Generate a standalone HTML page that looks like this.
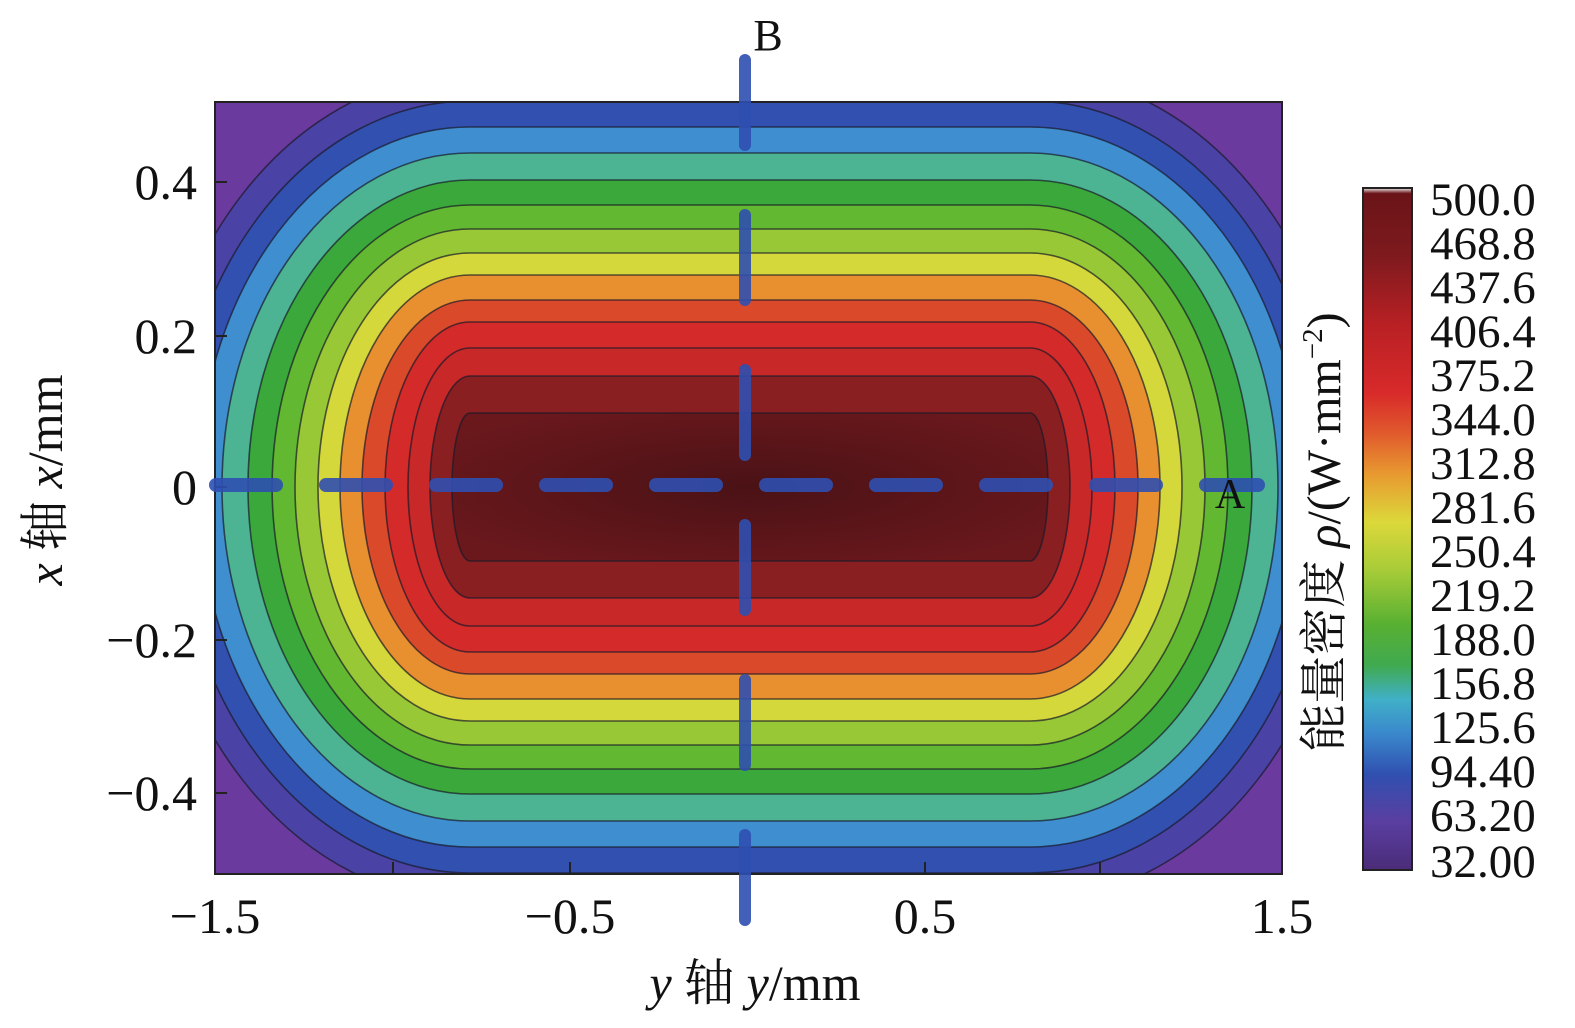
<!DOCTYPE html>
<html><head><meta charset="utf-8"><style>
html,body{margin:0;padding:0;background:#fff;}
svg{display:block;}
text{font-family:"Liberation Serif","Noto Serif CJK SC",serif;fill:#111;}
</style></head><body>
<svg width="1575" height="1028" viewBox="0 0 1575 1028" xmlns="http://www.w3.org/2000/svg">
<defs>
<clipPath id="pc"><rect x="215" y="102" width="1067" height="772"/></clipPath>
<linearGradient id="cb" x1="0" y1="0" x2="0" y2="1">
<stop offset="0" stop-color="#f0f0f0"/>
<stop offset="0.008" stop-color="#6a1418"/>
<stop offset="0.1" stop-color="#7e1a1e"/>
<stop offset="0.2" stop-color="#b82024"/>
<stop offset="0.3" stop-color="#d82a2a"/>
<stop offset="0.36" stop-color="#e05a2c"/>
<stop offset="0.42" stop-color="#e89a30"/>
<stop offset="0.49" stop-color="#dcd83a"/>
<stop offset="0.56" stop-color="#a8cc38"/>
<stop offset="0.64" stop-color="#58b032"/>
<stop offset="0.7" stop-color="#40aa50"/>
<stop offset="0.75" stop-color="#40b0c8"/>
<stop offset="0.8" stop-color="#3a88cc"/>
<stop offset="0.86" stop-color="#3050b0"/>
<stop offset="0.93" stop-color="#5a3ea0"/>
<stop offset="1" stop-color="#4a2c78"/>
</linearGradient>
<radialGradient id="core" cx="0.5" cy="0.5" r="0.6">
<stop offset="0" stop-color="#4a1216"/><stop offset="1" stop-color="#6a181c"/>
</radialGradient>
<linearGradient id="gb" x1="0" y1="0" x2="0" y2="1"><stop offset="0" stop-color="#3d3da0"/><stop offset="1" stop-color="#3358b5"/></linearGradient>
</defs>
<g clip-path="url(#pc)">
<rect x="215" y="102" width="1067" height="772" fill="#6a3a9e"/>
<g stroke="#1a1a2a" stroke-width="1.6" stroke-opacity="0.7">
<path d="M470,73 L1030,73 A322,414 0 0 1 1030,901 L470,901 A322,414 0 0 1 470,73 Z" fill="#4a42a4"/>
<path d="M470,101 L1030,101 A296,386 0 0 1 1030,873 L470,873 A296,386 0 0 1 470,101 Z" fill="#3250b0"/>
<path d="M470,127 L1030,127 A272,360 0 0 1 1030,847 L470,847 A272,360 0 0 1 470,127 Z" fill="#3e8ed0"/>
<path d="M470,153 L1030,153 A248,334 0 0 1 1030,821 L470,821 A248,334 0 0 1 470,153 Z" fill="#4cb492"/>
<path d="M470,180 L1030,180 A222,307 0 0 1 1030,794 L470,794 A222,307 0 0 1 470,180 Z" fill="#3aa83a"/>
<path d="M470,205 L1030,205 A198,282 0 0 1 1030,769 L470,769 A198,282 0 0 1 470,205 Z" fill="#62b830"/>
<path d="M470,229 L1030,229 A175,258 0 0 1 1030,745 L470,745 A175,258 0 0 1 470,229 Z" fill="#98c835"/>
<path d="M470,253 L1030,253 A152,234 0 0 1 1030,721 L470,721 A152,234 0 0 1 470,253 Z" fill="#d4d83a"/>
<path d="M470,275 L1030,275 A130,212 0 0 1 1030,699 L470,699 A130,212 0 0 1 470,275 Z" fill="#e89030"/>
<path d="M470,300 L1030,300 A108,187 0 0 1 1030,674 L470,674 A108,187 0 0 1 470,300 Z" fill="#da4a2a"/>
<path d="M470,322 L1030,322 A85,165 0 0 1 1030,652 L470,652 A85,165 0 0 1 470,322 Z" fill="#d42a2a"/>
<path d="M470,348 L1030,348 A62,139 0 0 1 1030,626 L470,626 A62,139 0 0 1 470,348 Z" fill="#c82828"/>
<path d="M470,376 L1030,376 A40,111 0 0 1 1030,598 L470,598 A40,111 0 0 1 470,376 Z" fill="#8a1f22"/>
<path d="M470,413 L1030,413 A18,74 0 0 1 1030,561 L470,561 A18,74 0 0 1 470,413 Z" fill="url(#core)"/>
</g>
</g>
<rect x="215" y="102" width="1067" height="772" fill="none" stroke="#222" stroke-width="2"/>
<g stroke="#222" stroke-width="2">
<line x1="215" y1="182" x2="227" y2="182"/><line x1="215" y1="336" x2="227" y2="336"/>
<line x1="215" y1="487" x2="227" y2="487"/><line x1="215" y1="640" x2="227" y2="640"/>
<line x1="215" y1="793" x2="227" y2="793"/>
<line x1="393" y1="874" x2="393" y2="862"/><line x1="570" y1="874" x2="570" y2="862"/>
<line x1="925" y1="874" x2="925" y2="862"/><line x1="1100" y1="874" x2="1100" y2="862"/>
</g>
<g stroke="#2f4fb0" stroke-linecap="round" stroke-opacity="0.9">
<line x1="216" y1="485" x2="1258" y2="485" stroke-width="14" stroke-dasharray="60 50"/>
<line x1="745" y1="60" x2="745" y2="925" stroke-width="12" stroke-dasharray="85 70"/>
</g>
<text x="768" y="50" font-size="44" text-anchor="middle">B</text>
<text x="1230" y="508" font-size="42" text-anchor="middle">A</text>
<g font-size="50" text-anchor="end">
<text x="197" y="199">0.4</text><text x="197" y="353">0.2</text>
<text x="197" y="504">0</text><text x="197" y="657">−0.2</text><text x="197" y="810">−0.4</text>
</g>
<g font-size="50" text-anchor="middle">
<text x="215" y="933">−1.5</text><text x="570" y="933">−0.5</text>
<text x="925" y="933">0.5</text><text x="1282" y="933">1.5</text>
</g>
<text x="755" y="1000" font-size="50" text-anchor="middle"><tspan font-style="italic">y</tspan> 轴 <tspan font-style="italic">y</tspan>/mm</text>
<text transform="translate(62,480) rotate(-90)" font-size="50" text-anchor="middle"><tspan font-style="italic">x</tspan> 轴 <tspan font-style="italic">x</tspan>/mm</text>
<rect x="1363" y="188" width="49" height="682" fill="url(#cb)" stroke="#222" stroke-width="2"/>
<g font-size="47">
<text x="1430" y="215">500.0</text><text x="1430" y="259">468.8</text>
<text x="1430" y="303">437.6</text><text x="1430" y="347">406.4</text>
<text x="1430" y="391">375.2</text><text x="1430" y="435">344.0</text>
<text x="1430" y="479">312.8</text><text x="1430" y="523">281.6</text>
<text x="1430" y="567">250.4</text><text x="1430" y="611">219.2</text>
<text x="1430" y="655">188.0</text><text x="1430" y="699">156.8</text>
<text x="1430" y="743">125.6</text><text x="1430" y="787">94.40</text>
<text x="1430" y="831">63.20</text><text x="1430" y="877">32.00</text>
</g>
<text transform="translate(1340,532) rotate(-90)" font-size="48" text-anchor="middle">能量密度 <tspan font-style="italic">ρ</tspan>/(W·mm<tspan font-size="29" dy="-18">−2</tspan><tspan dy="18">)</tspan></text>
</svg>
</body></html>
